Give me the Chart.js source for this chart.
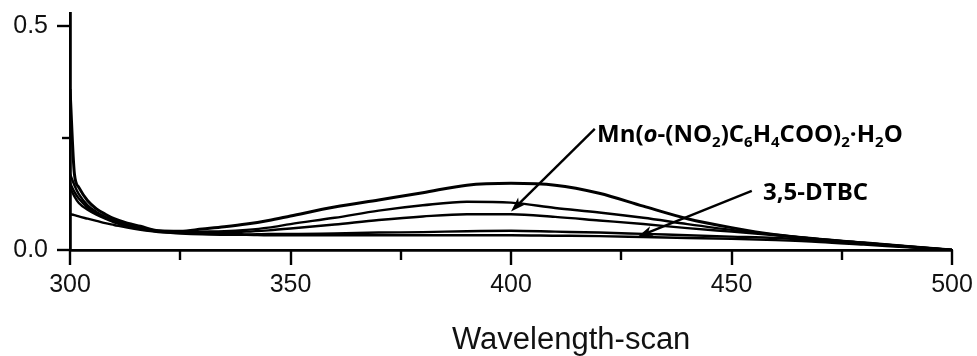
<!DOCTYPE html>
<html>
<head>
<meta charset="utf-8">
<title>Wavelength-scan</title>
<script src="https://cdn.jsdelivr.net/npm/chart.js@4.4.1/dist/chart.umd.min.js"></script>
<style>
  body { margin: 0; background: #fff; }
  #wrap { position: relative; width: 977px; height: 356px; overflow: hidden; }
  #grafico { position: absolute; left: 0; top: 0; }
  .rotulo { position: absolute; font-family: "Open Sans", sans-serif; font-weight: bold; font-size: 24px; line-height: 24px; color: #000; white-space: nowrap; }
  .rotulo sub { font-size: 15px; vertical-align: -5px; line-height: 0; }
  #tituloX { position: absolute; font-family: "Liberation Sans", Arial, sans-serif; font-size: 31px; line-height: 31px; color: #111; white-space: nowrap; }
</style>
</head>
<body>
<div id="wrap">
  <canvas id="grafico" width="977" height="356"></canvas>
  <div class="rotulo" id="rotuloMn" style="left:597px; top:121px;">Mn(<i>o</i>-(NO<sub>2</sub>)C<sub>6</sub>H<sub>4</sub>COO)<sub>2</sub>·H<sub>2</sub>O</div>
  <div class="rotulo" id="rotuloDtbc" style="left:763px; top:179px;">3,5-DTBC</div>
  <div id="tituloX" style="left:452px; top:323px;">Wavelength-scan</div>
</div>
<script>
// wavelength (nm) shared by every scan
const wavelengths = [300, 301, 302, 304, 306, 308, 310, 313, 316, 320, 325, 330, 335, 340, 345, 350,
  360, 370, 380, 390, 400, 410, 420, 430, 440, 450, 460, 470, 480, 490, 500];

// absorbance of each scan
const scan1 = [0.36, 0.17, 0.14, 0.11, 0.092, 0.080, 0.070, 0.060, 0.053, 0.043, 0.042, 0.047, 0.052, 0.058, 0.066, 0.076,
  0.096, 0.112, 0.128, 0.145, 0.149, 0.145, 0.127, 0.098, 0.070, 0.050, 0.034, 0.024, 0.016, 0.008, 0.0];
const scan2 = [0.17, 0.145, 0.125, 0.10, 0.085, 0.074, 0.066, 0.056, 0.049, 0.043, 0.040, 0.041, 0.042, 0.045, 0.050, 0.058,
  0.072, 0.088, 0.100, 0.108, 0.106, 0.094, 0.084, 0.072, 0.058, 0.045, 0.034, 0.024, 0.016, 0.008, 0.0];
const scan3 = [0.15, 0.13, 0.115, 0.095, 0.082, 0.072, 0.064, 0.055, 0.048, 0.042, 0.039, 0.038, 0.040, 0.041, 0.044, 0.048,
  0.057, 0.067, 0.075, 0.080, 0.080, 0.074, 0.066, 0.058, 0.049, 0.041, 0.033, 0.024, 0.016, 0.008, 0.0];
const scan4 = [0.14, 0.12, 0.105, 0.090, 0.079, 0.070, 0.062, 0.053, 0.047, 0.041, 0.039, 0.036, 0.038, 0.035, 0.036, 0.036,
  0.037, 0.039, 0.040, 0.042, 0.043, 0.041, 0.039, 0.036, 0.033, 0.030, 0.027, 0.021, 0.014, 0.007, 0.0];
const dtbc = [0.080, 0.078, 0.075, 0.070, 0.065, 0.060, 0.056, 0.050, 0.045, 0.040, 0.037, 0.035, 0.034, 0.034, 0.033, 0.033,
  0.033, 0.033, 0.033, 0.033, 0.033, 0.032, 0.031, 0.029, 0.027, 0.025, 0.022, 0.018, 0.012, 0.006, 0.0];

// axis ticks
const xTicks = [300, 325, 350, 375, 400, 425, 450, 475, 500];
const xLabels = [300, 350, 400, 450, 500];
const yTicks = [0, 0.25, 0.5];
const yLabels = [0, 0.5];

// arrows: [tail wavelength, tail absorbance, tip wavelength, tip absorbance]
const arrowMn = [419, 0.271, 400, 0.086];
const arrowDtbc = [454.6, 0.132, 428.8, 0.030];

const series = [scan1, scan2, scan3, scan4, dtbc];

function pontos(valores) {
  return wavelengths.map((w, i) => ({ x: w, y: valores[i] }));
}

// tick marks with two lengths (major / minor)
const marcasPlugin = {
  id: 'marcas',
  afterDraw(chart) {
    const { ctx, scales: { x, y }, chartArea } = chart;
    ctx.save();
    ctx.strokeStyle = '#000';
    ctx.lineWidth = 2.4;
    xTicks.forEach(v => {
      const px = Math.round(x.getPixelForValue(v));
      const len = xLabels.includes(v) ? 15 : 10;
      ctx.beginPath();
      ctx.moveTo(px, chartArea.bottom);
      ctx.lineTo(px, chartArea.bottom + len);
      ctx.stroke();
    });
    yTicks.forEach(v => {
      const py = Math.round(y.getPixelForValue(v));
      const len = yLabels.includes(v) ? 13 : 8;
      ctx.beginPath();
      ctx.moveTo(chartArea.left - len, py);
      ctx.lineTo(chartArea.left, py);
      ctx.stroke();
    });
    ctx.restore();
  }
};

// annotation arrows
const setasPlugin = {
  id: 'setas',
  afterDatasetsDraw(chart) {
    const { ctx, scales: { x, y } } = chart;
    [arrowMn, arrowDtbc].forEach(a => {
      const x0 = x.getPixelForValue(a[0]), y0 = y.getPixelForValue(a[1]);
      const x1 = x.getPixelForValue(a[2]), y1 = y.getPixelForValue(a[3]);
      const ang = Math.atan2(y1 - y0, x1 - x0);
      ctx.save();
      ctx.strokeStyle = '#000';
      ctx.fillStyle = '#000';
      ctx.lineWidth = 2.4;
      ctx.beginPath();
      ctx.moveTo(x0, y0);
      ctx.lineTo(x1 - 6 * Math.cos(ang), y1 - 6 * Math.sin(ang));
      ctx.stroke();
      ctx.beginPath();
      ctx.moveTo(x1, y1);
      ctx.lineTo(x1 - 15 * Math.cos(ang) + 5 * Math.sin(ang), y1 - 15 * Math.sin(ang) - 5 * Math.cos(ang));
      ctx.lineTo(x1 - 11 * Math.cos(ang), y1 - 11 * Math.sin(ang));
      ctx.lineTo(x1 - 15 * Math.cos(ang) - 5 * Math.sin(ang), y1 - 15 * Math.sin(ang) + 5 * Math.cos(ang));
      ctx.closePath();
      ctx.fill();
      ctx.restore();
    });
  }
};

const fonteTicks = { family: '"Liberation Sans", Arial, sans-serif', size: 25 };

new Chart(document.getElementById('grafico').getContext('2d'), {
  type: 'line',
  data: {
    datasets: series.map((s, i) => ({
      data: pontos(s),
      borderColor: '#000',
      borderWidth: i === 0 ? 3 : 2.4,
      pointRadius: 0,
      tension: 0.4,
      cubicInterpolationMode: 'monotone',
      fill: false
    }))
  },
  options: {
    responsive: false,
    animation: false,
    layout: { padding: { top: 13, right: 25, left: 0, bottom: 0 } },
    plugins: { legend: { display: false }, tooltip: { enabled: false } },
    scales: {
      x: {
        type: 'linear',
        min: 300,
        max: 500,
        afterBuildTicks: scale => { scale.ticks = xTicks.map(v => ({ value: v })); },
        afterFit: scale => { scale.height = 106; scale.paddingLeft = 0; scale.paddingRight = 0; },
        grid: { drawOnChartArea: false, drawTicks: false },
        border: { display: true, color: '#000', width: 2.8 },
        ticks: {
          color: '#111',
          font: fonteTicks,
          padding: 20,
          maxRotation: 0,
          autoSkip: false,
          callback: v => xLabels.includes(v) ? String(v) : ''
        }
      },
      y: {
        min: 0,
        max: 0.53,
        afterBuildTicks: scale => { scale.ticks = yTicks.map(v => ({ value: v })); },
        afterFit: scale => { scale.width = 70; scale.paddingTop = 0; scale.paddingBottom = 0; },
        grid: { drawOnChartArea: false, drawTicks: false },
        border: { display: true, color: '#000', width: 2.8 },
        ticks: {
          color: '#111',
          font: fonteTicks,
          padding: 22,
          autoSkip: false,
          callback: v => yLabels.includes(v) ? v.toFixed(1) : ''
        }
      }
    }
  },
  plugins: [marcasPlugin, setasPlugin]
});
</script>
</body>
</html>
